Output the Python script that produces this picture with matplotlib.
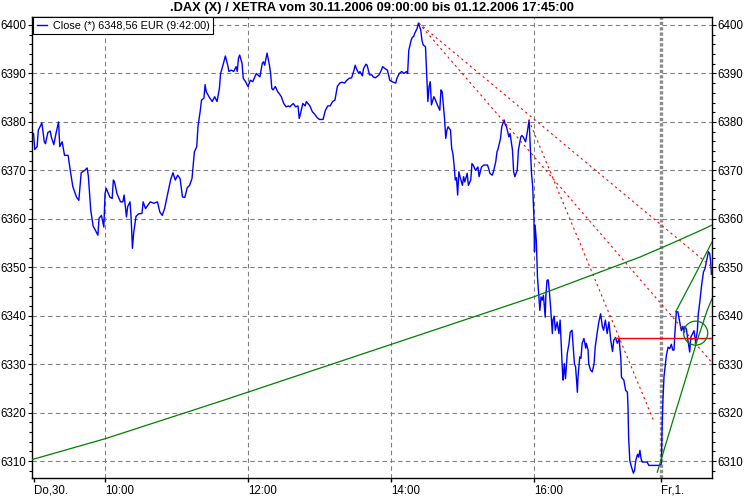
import matplotlib
matplotlib.use("Agg")
import matplotlib.pyplot as plt
from matplotlib.patches import Ellipse

plt.rcParams["font.family"] = ["Liberation Sans", "DejaVu Sans"]

# session axis in minutes after 9:00 on 30.11.; Friday starts at day2_offset
day2_offset = 527

day1_min = [0, 1, 3, 4, 7, 9, 10, 12, 14, 15, 17, 19, 21, 22, 24, 26, 29, 31, 33, 36,
            38, 40, 43, 45, 46, 48, 50, 52, 54, 55, 57, 59, 60, 61, 64, 66, 67, 68, 70, 73,
            75, 76, 78, 79, 81, 82, 83, 84, 86, 88, 91, 92, 94, 98, 101, 104, 106, 108, 110, 113,
            115, 117, 119, 121, 123, 125, 127, 129, 131, 133, 135, 137, 138, 140, 141, 143, 144, 145, 148, 150,
            152, 154, 156, 157, 159, 161, 163, 164, 166, 168, 170, 171, 172, 173, 175, 176, 178, 180, 182, 184,
            187, 190, 192, 193, 194, 196, 198, 199, 200, 201, 203, 205, 206, 208, 210, 212, 214, 215, 218, 220,
            222, 223, 224, 226, 228, 229, 232, 234, 236, 238, 240, 243, 245, 247, 249, 251, 253, 255, 257, 259,
            261, 263, 265, 267, 269, 270, 271, 273, 274, 276, 277, 279, 280, 282, 284, 285, 287, 290, 292, 293,
            295, 297, 298, 299, 301, 304, 305, 307, 309, 311, 313, 314, 315, 317, 318, 319, 320, 322, 323, 325,
            326, 327, 329, 330, 331, 332, 333, 334, 336, 337, 339, 341, 342, 343, 345, 346, 347, 348, 350, 351,
            352, 353, 354, 355, 356, 357, 358, 360, 361, 362, 364, 365, 367, 368, 369, 371, 373, 374, 376, 378,
            381, 382, 383, 385, 386, 388, 389, 390, 392, 393, 395, 396, 397, 399, 400, 402, 403, 404, 406, 407,
            409, 410, 411, 413, 414, 416, 417, 418, 419, 420, 420.5, 421, 422, 423, 424, 425, 426, 427, 428, 429.5,
            430, 431, 432, 433, 434, 435.5, 436, 437, 438, 439.5, 441, 442, 443, 444, 444.5, 445.5, 446.5, 448, 449.5, 450.5,
            452, 453, 454, 455, 456.5, 457, 458.5, 459.5, 460.5, 462, 463.5, 464, 465.5, 466, 467.5, 469, 470.5, 471.5, 473,
            474.5, 476, 477.5, 478.5, 480, 481.5, 483, 484.5, 486, 487, 488.5, 490, 491.5, 493, 493.5, 495.5, 497, 498.5,
            499, 499.5, 500.5, 502, 503.5, 504.5, 505.5, 507, 508, 509, 510, 511, 515, 516.5, 525]
day1_close = [6377.6, 6374.3, 6374.9, 6378.3, 6379.8, 6375.9, 6375.5, 6377.8, 6378.1, 6376.8,
              6375.3, 6377.8, 6380.0, 6374.9, 6375.9, 6373.1, 6373.1, 6369.7, 6366.6, 6364.5,
              6363.8, 6369.5, 6370.0, 6370.5, 6368.8, 6361.8, 6358.5, 6357.6, 6356.6, 6360.1,
              6360.7, 6358.3, 6365.2, 6366.3, 6364.5, 6364.2, 6368.0, 6367.6, 6365.2, 6363.5,
              6363.5, 6364.9, 6360.4, 6362.5, 6363.5, 6359.7, 6353.9, 6357.0, 6360.5, 6361.0,
              6361.1, 6363.5, 6362.1, 6363.5, 6363.2, 6363.5, 6361.4, 6360.7, 6362.1, 6365.6,
              6368.0, 6369.5, 6368.0, 6369.0, 6368.3, 6364.5, 6364.4, 6366.4, 6366.9, 6368.3,
              6373.8, 6374.9, 6379.0, 6382.4, 6384.5, 6384.9, 6387.7, 6386.2, 6384.9, 6384.2,
              6385.2, 6384.2, 6386.9, 6390.0, 6391.7, 6393.6, 6391.7, 6390.4, 6390.7, 6390.4,
              6391.4, 6390.4, 6393.1, 6393.8, 6392.1, 6389.0, 6388.3, 6387.3, 6388.6, 6388.3,
              6390.0, 6389.3, 6392.1, 6392.4, 6391.7, 6394.2, 6391.7, 6390.0, 6386.9, 6386.6,
              6387.3, 6386.2, 6385.9, 6385.2, 6383.8, 6383.1, 6383.3, 6383.1, 6383.8, 6383.1,
              6383.3, 6380.7, 6381.6, 6383.8, 6383.3, 6384.2, 6383.3, 6382.1, 6381.6, 6380.9,
              6380.5, 6380.5, 6382.4, 6383.3, 6383.3, 6384.2, 6384.5, 6387.3, 6388.0, 6388.2,
              6388.0, 6388.6, 6389.0, 6389.1, 6390.7, 6391.7, 6391.0, 6390.0, 6390.4, 6389.5,
              6391.0, 6391.9, 6391.7, 6389.7, 6389.7, 6389.3, 6389.1, 6389.7, 6390.7, 6391.4,
              6391.0, 6390.7, 6389.7, 6388.6, 6388.3, 6388.0, 6389.0, 6390.0, 6390.4, 6390.0,
              6390.4, 6390.0, 6394.8, 6396.9, 6397.5, 6397.6, 6398.3, 6399.3, 6400.4, 6399.0,
              6396.9, 6395.9, 6395.5, 6390.0, 6384.2, 6387.3, 6388.3, 6383.5, 6385.2, 6384.7,
              6383.5, 6382.4, 6386.6, 6386.2, 6380.7, 6376.6, 6378.3, 6379.0, 6378.3, 6374.5,
              6373.5, 6371.1, 6368.0, 6368.5, 6364.9, 6369.7, 6368.7, 6366.9, 6368.7, 6367.6,
              6369.4, 6366.9, 6368.0, 6371.4, 6371.1, 6370.0, 6370.7, 6368.7, 6370.7, 6371.1,
              6371.1, 6370.4, 6369.4, 6369.0, 6369.7, 6371.8, 6373.8, 6374.5, 6376.6, 6379.0,
              6380.4, 6379.4, 6379.0, 6376.9, 6377.6, 6374.2, 6369.7, 6368.7, 6370.0, 6374.2,
              6376.9, 6377.2, 6376.9, 6375.9, 6377.2, 6380.4, 6374.5, 6369.4, 6366.6, 6360.4,
              6353.2, 6358.7, 6355.6, 6348.0, 6344.6, 6341.1, 6343.9, 6343.2, 6344.2, 6339.7,
              6343.9, 6347.3, 6347.4, 6344.9, 6341.8, 6336.3, 6339.1, 6339.9, 6337.0, 6338.7,
              6336.3, 6339.1, 6333.6, 6328.4, 6326.7, 6330.1, 6327.0, 6332.2, 6334.3, 6336.6,
              6337.0, 6333.6, 6330.1, 6329.4, 6324.2, 6327.3, 6331.5, 6331.2, 6334.3, 6335.3,
              6333.3, 6334.3, 6332.9, 6330.1, 6328.8, 6328.4, 6330.1, 6333.6, 6336.3, 6338.7,
              6340.4, 6337.7, 6337.0, 6339.1, 6336.3, 6338.7, 6334.9, 6332.6, 6334.9, 6335.5,
              6334.3, 6335.3, 6331.1, 6327.3, 6326.7, 6324.6, 6324.2, 6321.1, 6315.0, 6310.1,
              6308.7, 6307.5, 6308.1, 6310.1, 6311.4, 6310.8, 6312.2, 6310.4, 6309.8, 6309.8,
              6309.1, 6309.1]

# minutes after 9:00 on 01.12.
day2_min = [0, 0.3, 0.6, 1.3, 2.2, 4.2, 5.6, 7.0, 8.4, 9.5, 10.6, 11.4, 12.6, 13.9, 15.4,
            16.8, 18.1, 19.0, 19.8, 21.0, 22.3, 23.8, 24.6, 26.0, 27.4, 28.8, 30.2, 31.0, 32.1,
            33.6, 35.3, 36.6, 38.0, 39.5, 40.6, 41.4, 42.0]
day2_close = [6309.4, 6313.6, 6317.0, 6322.5, 6327.4, 6331.8, 6333.5, 6333.2, 6334.1, 6332.9,
              6332.9, 6336.6, 6340.8, 6340.8, 6338.7, 6336.9, 6337.8, 6336.5, 6337.8, 6337.2,
              6334.9, 6332.5, 6335.5, 6336.2, 6336.9, 6334.5, 6336.9, 6340.4, 6342.5, 6345.9,
              6349.0, 6349.7, 6351.4, 6353.2, 6352.8, 6351.1, 6348.56]

x_ticks = [0, 60, 180, 300, 420, day2_offset]
x_labels = ["Do,30.", "10:00", "12:00", "14:00", "16:00", "Fr,1."]
x_end = 569.5

# user drawn tools (red fan lines, red level, green arcs)
fan_a_x, fan_a_y = [323.3, x_end], [6400.4, 6350.0]
fan_b_x, fan_b_y = [323.3, x_end], [6400.4, 6330.3]
fan_c_x, fan_c_y = [415.7, 520.4], [6380.4, 6318.4]
level_x, level_y = [488.2, x_end], [6335.3, 6335.3]
arc1_x = [-1.3, 60, 159, 420, 509, 534.5, 560, x_end]
arc1_y = [6310.3, 6314.6, 6322.5, 6343.9, 6352.1, 6354.8, 6357.6, 6358.7]
arc2_x = [523.6, 537.6, 548.8, 557.2, 565.6, x_end]
arc2_y = [6307.7, 6319.1, 6328.1, 6335.0, 6341.2, 6343.5]
arc3_x = [539.0, 554.4, x_end]
arc3_y = [6340.8, 6348.0, 6355.2]
circle_center = (555.8, 6336.4)

close_x = day1_min + [day2_offset + m for m in day2_min]
close_y = day1_close + day2_close

fig = plt.figure(figsize=(7.44, 4.97), dpi=100)
ax = fig.add_axes([32 / 744, 1 - 478 / 497, 680 / 744, 461 / 497])

grid_kw = dict(color="#808080", lw=0.8, linestyle=(0, (4, 3)), zorder=1)
for v in range(6310, 6401, 10):
    ax.axhline(v, **grid_kw)
for t in x_ticks[1:-1]:
    ax.axvline(t, **grid_kw)
ax.axvline(day2_offset, color="#8c8c8c", lw=2.4, linestyle=(0, (1.0, 0.6)), zorder=1)

ax.plot(close_x, close_y, color="#0000ff", lw=1.0, zorder=3,
        label="Close (*) 6348,56 EUR (9:42:00)")

red_kw = dict(color="#ff0000", lw=0.8, linestyle=(0, (2, 3)), zorder=4)
ax.plot(fan_a_x, fan_a_y, **red_kw)
ax.plot(fan_b_x, fan_b_y, **red_kw)
ax.plot(fan_c_x, fan_c_y, **red_kw)
ax.plot(level_x, level_y, color="#ff0000", lw=1.0, zorder=4)

green_kw = dict(color="#008000", lw=0.9, zorder=4)
ax.plot(arc1_x, arc1_y, **green_kw)
ax.plot(arc2_x, arc2_y, **green_kw)
ax.plot(arc3_x, arc3_y, **green_kw)
ax.add_patch(Ellipse(circle_center, width=20.2, height=4.95, fill=False,
                     edgecolor="#008000", lw=0.9, zorder=4))

ax.set_xlim(-1.3, x_end)
ax.set_ylim(6306.5, 6401.65)

ax.set_xticks(x_ticks)
ax.set_xticklabels(x_labels, ha="left")
ax.set_yticks(range(6310, 6401, 10))
ax.set_yticks(range(6308, 6401, 2), minor=True)
ax.tick_params(axis="x", direction="out", length=3, width=1, pad=2, labelsize=8.3)
ax.tick_params(axis="y", which="both", direction="out", left=True, right=True,
               labelleft=True, labelright=True, labelsize=8.3, pad=1.2)
ax.tick_params(axis="y", which="major", length=3, width=0.8)
ax.tick_params(axis="y", which="minor", length=2.5, width=0.8)
for lbl in ax.get_xticklabels():
    lbl.set_x(lbl.get_position()[0])
for s in ax.spines.values():
    s.set_linewidth(1.0)

leg = ax.legend(loc="upper left", bbox_to_anchor=(0.002, 0.999), fontsize=7.8,
                handlelength=1.0, handletextpad=0.5, borderpad=0.3,
                borderaxespad=0, fancybox=False, framealpha=1)
leg.get_frame().set_edgecolor("black")
leg.get_frame().set_linewidth(0.8)

fig.text(0.5, 1 - 8 / 497,
         ".DAX (X) / XETRA vom 30.11.2006 09:00:00 bis 01.12.2006 17:45:00",
         ha="center", va="center", fontsize=9.3, fontweight="bold")

fig.savefig("out.png", dpi=100)
